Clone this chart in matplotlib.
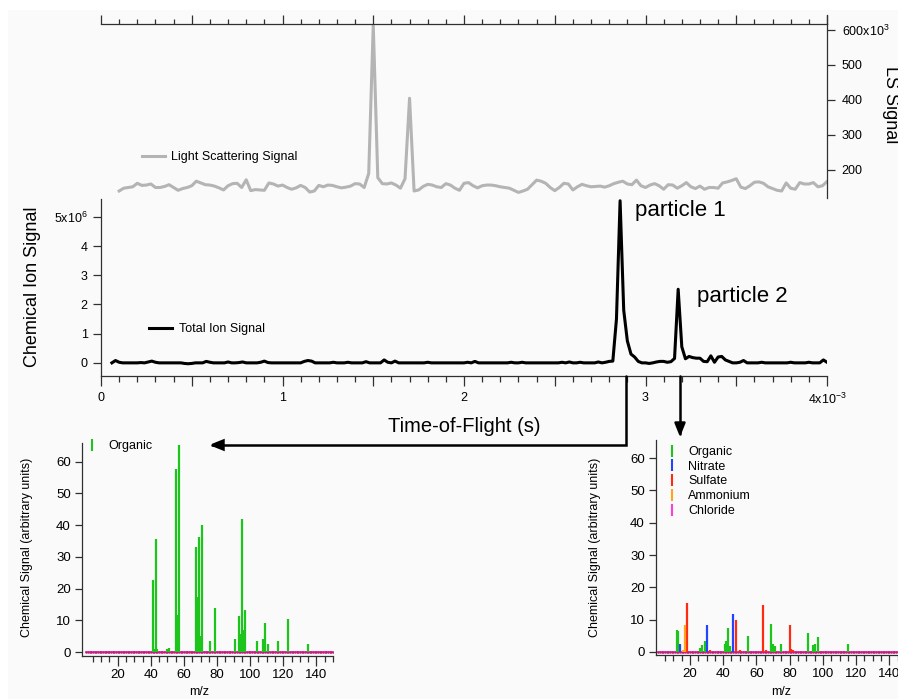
import numpy as np
import matplotlib
matplotlib.use('Agg')
import matplotlib.pyplot as plt
from matplotlib.lines import Line2D
from matplotlib.patches import Rectangle, FancyArrowPatch
from matplotlib.path import Path
from matplotlib.ticker import MultipleLocator, FixedLocator

plt.rcParams['font.family'] = ['Liberation Sans', 'DejaVu Sans']
plt.rcParams['mathtext.default'] = 'regular'

W, H = 898, 699

# light scattering signal (x10^3), one sample every 0.025 ms starting at 0.1 ms
ls_t0, ls_dt = 0.1, 0.025
ls_signal = [140, 148, 150, 152, 162, 156, 157, 160, 150, 150, 153, 158, 150, 142, 147, 150, 155, 168, 163, 158,
             157, 154, 149, 143, 155, 161, 162, 150, 172, 141, 144, 143, 142, 163, 160, 154, 157, 150, 145, 149,
             156, 150, 137, 140, 156, 152, 157, 156, 152, 149, 151, 154, 161, 160, 150, 190, 614, 178, 161, 160,
             163, 157, 148, 175, 405, 140, 143, 153, 159, 157, 152, 150, 161, 157, 148, 142, 162, 164, 155, 149,
             155, 157, 157, 155, 152, 150, 148, 142, 136, 140, 145, 158, 171, 168, 162, 150, 141, 150, 162, 160,
             143, 152, 159, 155, 152, 153, 154, 151, 155, 161, 165, 168, 160, 158, 171, 155, 150, 157, 161, 155,
             145, 158, 157, 148, 155, 164, 152, 147, 154, 145, 150, 150, 148, 163, 166, 170, 175, 151, 147, 155,
             165, 166, 162, 152, 147, 142, 140, 163, 148, 145, 164, 160, 160, 164, 152, 155, 167]

# total ion signal (x10^6), one sample every 0.02 ms starting at 0.06 ms
tis_t0, tis_dt = 0.06, 0.02
tis_signal = [0.00, 0.08, 0.02, 0.00, 0.00, 0.00, 0.00, 0.00, 0.01, 0.00,
              0.03, 0.06, 0.02, 0.00, 0.00, 0.00, 0.00, 0.00, 0.00, 0.00,
              -0.02, -0.03, -0.02, 0.00, 0.00, 0.00, 0.05, 0.02, 0.00, 0.00,
              0.00, 0.00, 0.03, 0.00, 0.00, 0.01, 0.03, 0.00, 0.00, 0.00,
              0.00, 0.02, 0.06, 0.01, 0.00, 0.00, 0.00, 0.00, 0.00, 0.00,
              0.00, 0.00, 0.00, 0.05, 0.08, 0.06, 0.00, 0.00, 0.00, 0.00,
              0.00, 0.02, 0.00, 0.00, 0.00, 0.02, 0.00, 0.00, 0.00, 0.00,
              0.04, 0.00, 0.00, 0.00, 0.00, 0.10, 0.02, 0.00, 0.06, 0.00,
              0.00, 0.00, 0.00, 0.00, 0.00, 0.00, 0.00, 0.02, 0.00, 0.00,
              0.00, 0.00, 0.00, 0.00, 0.00, 0.00, 0.00, 0.00, 0.02, 0.00,
              0.05, 0.00, 0.00, 0.00, 0.00, 0.00, 0.00, 0.00, 0.00, 0.00,
              0.02, 0.00, 0.00, 0.02, 0.00, 0.00, 0.00, 0.00, 0.00, 0.00,
              0.00, 0.00, 0.00, 0.00, 0.02, 0.00, 0.03, 0.00, 0.00, 0.02,
              0.00, 0.00, 0.00, 0.00, 0.03, 0.00, 0.02, 0.05, 0.06, 1.50,
              5.55, 1.80, 0.75, 0.30, 0.20, 0.05, 0.00, 0.00, -0.02, 0.00,
              0.03, 0.05, 0.05, 0.02, 0.04, 0.15, 2.52, 0.55, 0.14, 0.22,
              0.18, 0.16, 0.16, 0.05, 0.04, 0.24, 0.02, 0.20, 0.22, 0.10,
              0.05, 0.00, 0.00, 0.02, 0.08, 0.00, 0.00, 0.00, 0.00, 0.02,
              0.00, 0.00, 0.00, 0.00, 0.00, 0.00, 0.00, 0.02, 0.00, 0.00,
              0.00, 0.00, 0.02, 0.00, 0.00, 0.00, 0.10, 0.02]

# particle 1 mass spectrum (organic only)
p1_org_mz = [41, 42, 43, 44, 50, 51, 55, 56, 57, 67, 68, 69, 70, 71, 76, 79,
             91, 93, 94, 95, 96, 97, 104, 108, 109, 111, 117, 123, 135]
p1_org = [22.8, 1.0, 35.7, 1.0, 1.0, 1.4, 57.7, 11.8, 65.3, 33.0, 17.5, 36.3, 5.1, 39.9, 3.4, 13.9,
          4.1, 11.5, 5.8, 41.8, 7.0, 13.3, 3.6, 4.1, 9.3, 2.5, 3.4, 10.5, 2.6]

# particle 2 mass spectrum
p2_org_mz = [12, 13, 26, 27, 29, 41, 42, 43, 44, 55, 69, 70, 71, 75, 91, 94, 95, 97, 115]
p2_org = [6.9, 6.5, 1.2, 2.2, 3.3, 2.5, 3.4, 7.4, 1.9, 4.8, 8.8, 2.4, 1.9, 2.4, 5.9, 2.2, 2.4, 4.5, 2.4]
p2_no3_mz = [14, 30, 46]
p2_no3 = [2.5, 8.2, 11.7]
p2_so4_mz = [18, 32, 48, 50, 64, 66, 80, 81, 82]
p2_so4 = [15.0, 0.6, 9.8, 0.5, 14.6, 0.5, 8.3, 0.9, 0.6]
p2_nh4_mz = [16, 17]
p2_nh4 = [0.6, 8.2]
chl_mz = np.arange(1, 151)
chl = np.zeros(len(chl_mz))

species = ['Organic', 'Nitrate', 'Sulfate', 'Ammonium', 'Chloride']
colors = {'Organic': '#1cc41c', 'Nitrate': '#2244ff', 'Sulfate': '#ff2a12',
          'Ammonium': '#ffa41c', 'Chloride': '#ff3fd0'}

AX = '#303030'


def box(x0, y0, x1, y1):
    return [x0 / W, 1 - y1 / H, (x1 - x0) / W, (y1 - y0) / H]


fig = plt.figure(figsize=(W / 100, H / 100), dpi=100)
fig.patches.append(Rectangle((8 / W, 0), 1, 1 - 10 / H, transform=fig.transFigure,
                             facecolor='#fafafa', edgecolor='none', zorder=-5))

# ---- light scattering panel
ax_ls = fig.add_axes(box(101, 24, 827, 198))
ax_ls.set_facecolor('none')
ls_t = (ls_t0 + ls_dt * np.arange(len(ls_signal))) * 1e-3
ax_ls.plot(ls_t, np.array(ls_signal) * 1e3, color='#b4b4b4', lw=2.2, label='Light Scattering Signal')
ax_ls.set_xlim(0, 4e-3)
ax_ls.set_ylim(120e3, 617e3)
for s in ['left', 'bottom']:
    ax_ls.spines[s].set_visible(False)
for s in ['top', 'right']:
    ax_ls.spines[s].set_color(AX)
    ax_ls.spines[s].set_linewidth(0.9)
ax_ls.xaxis.set_ticks_position('top')
ax_ls.xaxis.set_major_locator(MultipleLocator(0.5e-3))
ax_ls.xaxis.set_minor_locator(MultipleLocator(0.1e-3))
ax_ls.tick_params(axis='x', which='major', direction='out', length=6.5, width=0.9, color=AX,
                  labeltop=False, labelbottom=False)
ax_ls.tick_params(axis='x', which='minor', direction='out', length=3.4, width=0.9, color=AX)
ax_ls.yaxis.tick_right()
ax_ls.set_yticks([200e3, 300e3, 400e3, 500e3, 600e3])
ax_ls.set_yticklabels(['200', '300', '400', '500', '600x10$^{3}$'])
ax_ls.tick_params(axis='y', direction='out', length=5.5, width=0.9, color=AX, labelsize=9, pad=5)
ax_ls.add_line(Line2D([1, 1], [1, 1.052], transform=ax_ls.transAxes, color=AX, lw=0.9, clip_on=False))
ax_ls.legend(loc='center left', bbox_to_anchor=(142 / W, 1 - 157 / H), bbox_transform=fig.transFigure,
             frameon=False, fontsize=9, handlelength=1.84, handletextpad=0.48, borderpad=0, borderaxespad=0)
fig.text(890 / W, 1 - 105 / H, 'LS Signal', rotation=-90, ha='center', va='center', fontsize=13)

# ---- total ion signal panel
ax_tis = fig.add_axes(box(101, 199.3, 827, 376))
ax_tis.set_facecolor('none')
tis_t = (tis_t0 + tis_dt * np.arange(len(tis_signal))) * 1e-3
ax_tis.plot(tis_t, np.array(tis_signal) * 1e6, color='black', lw=2.2, label='Total Ion Signal')
ax_tis.set_xlim(0, 4e-3)
ax_tis.set_ylim(-0.45e6, 5.6e6)
for s in ['top', 'right']:
    ax_tis.spines[s].set_visible(False)
for s in ['left', 'bottom']:
    ax_tis.spines[s].set_color(AX)
    ax_tis.spines[s].set_linewidth(0.9)
ax_tis.set_xticks(np.arange(0, 4.01e-3, 0.5e-3))
ax_tis.set_xticklabels(['0', '', '1', '', '2', '', '3', '', '4x10$^{-3}$'])
ax_tis.xaxis.set_minor_locator(MultipleLocator(0.1e-3))
ax_tis.tick_params(axis='x', which='major', direction='out', length=7.5, width=0.9, color=AX,
                   labelsize=9, pad=4)
ax_tis.tick_params(axis='x', which='minor', direction='out', length=4, width=0.9, color=AX)
ax_tis.set_yticks([0, 1e6, 2e6, 3e6, 4e6, 5e6])
ax_tis.set_yticklabels(['0', '1', '2', '3', '4', '5x10$^{6}$'])
ax_tis.tick_params(axis='y', direction='out', length=5.5, width=0.9, color=AX, labelsize=9, pad=4)
ax_tis.legend(loc='center left', bbox_to_anchor=(149 / W, 1 - 329 / H), bbox_transform=fig.transFigure,
              frameon=False, fontsize=9, handlelength=1.84, handletextpad=0.56, borderpad=0, borderaxespad=0)
ax_tis.text(2.942e-3, 5.2e6, 'particle 1', fontsize=16, ha='left', va='center')
ax_tis.text(3.284e-3, 2.27e6, 'particle 2', fontsize=16, ha='left', va='center')
fig.text(33 / W, 1 - 287 / H, 'Chemical Ion Signal', rotation=90, ha='center', va='center', fontsize=13)
fig.text(464.5 / W, 1 - 427 / H, 'Time-of-Flight (s)', ha='center', va='center', fontsize=14.5)


# ---- arrows from the particles to their spectra
def fpath(pts):
    return Path([(x / W, 1 - y / H) for x, y in pts])


fig.patches.append(FancyArrowPatch(path=fpath([(625.7, 376), (625.7, 445), (209, 445)]),
                                   arrowstyle='-|>,head_length=0.8,head_width=0.32', mutation_scale=10,
                                   lw=1.8, color='black', transform=fig.transFigure,
                                   joinstyle='miter', shrinkA=0, shrinkB=0))
fig.patches.append(FancyArrowPatch(path=fpath([(680, 376), (680, 437)]),
                                   arrowstyle='-|>,head_length=0.8,head_width=0.32', mutation_scale=10,
                                   lw=1.8, color='black', transform=fig.transFigure,
                                   shrinkA=0, shrinkB=0))


# ---- mass spectra
def spectrum_axes(rect, xlim, ylim, ylabel_x):
    ax = fig.add_axes(rect)
    ax.set_facecolor('none')
    ax.set_xlim(*xlim)
    ax.set_ylim(*ylim)
    for s in ['top', 'right']:
        ax.spines[s].set_visible(False)
    for s in ['left', 'bottom']:
        ax.spines[s].set_color(AX)
        ax.spines[s].set_linewidth(0.9)
    ax.set_xticks(range(20, 141, 20))
    ax.xaxis.set_minor_locator(FixedLocator(range(5, 151, 5)))
    ax.tick_params(axis='x', which='major', direction='out', length=7, width=0.9, color=AX,
                   labelsize=9.5, pad=2.5)
    ax.tick_params(axis='x', which='minor', direction='out', length=4.6, width=0.9, color=AX)
    ax.set_yticks(range(0, 61, 10))
    ax.tick_params(axis='y', direction='out', length=5, width=0.9, color=AX, labelsize=9.5, pad=3)
    ax.plot(chl_mz, chl, color=colors['Chloride'], lw=1.3, zorder=1)
    ax.plot(chl_mz, chl, ls='none', marker='.', ms=1.6, color='#c0207e', zorder=1)
    fig.text(ylabel_x / W, 1 - 547.5 / H, 'Chemical Signal (arbitrary units)', rotation=90,
             ha='center', va='center', fontsize=9)
    return ax


def sticks(ax, mz, val, c):
    ax.vlines(mz, 0, val, colors=c, lw=1.6, capstyle='butt', zorder=2)


def legend_handle(c):
    return Line2D([], [], ls='none', marker='|', ms=8, mew=1.5, color=c)


ax_s1 = spectrum_axes(box(82, 443, 333, 656), (-1.6, 150), (-1.26, 65.9), 27)
sticks(ax_s1, p1_org_mz, p1_org, colors['Organic'])
ax_s1.legend([legend_handle(colors['Organic'])], ['Organic'], loc='upper left',
             bbox_to_anchor=(87 / W, 1 - 440 / H), bbox_transform=fig.transFigure, frameon=False,
             fontsize=9, handlelength=0.8, handletextpad=0.88, borderpad=0, borderaxespad=0)
fig.text(199 / W, 1 - 692 / H, 'm/z', ha='center', va='center', fontsize=9)

ax_s2 = spectrum_axes(box(656, 440, 906, 655), (-0.4, 150), (-0.95, 65.6), 595)
p2_series = {'Organic': (p2_org_mz, p2_org), 'Nitrate': (p2_no3_mz, p2_no3),
             'Sulfate': (p2_so4_mz, p2_so4), 'Ammonium': (p2_nh4_mz, p2_nh4)}
for name, (mz, val) in p2_series.items():
    sticks(ax_s2, mz, val, colors[name])
ax_s2.legend([legend_handle(colors[s]) for s in species], species, loc='upper left',
             bbox_to_anchor=(667 / W, 1 - 446 / H), bbox_transform=fig.transFigure, frameon=False,
             fontsize=9, handlelength=0.8, handletextpad=0.88, borderpad=0, borderaxespad=0,
             labelspacing=0.22)
fig.text(781 / W, 1 - 692 / H, 'm/z', ha='center', va='center', fontsize=9)

fig.savefig('out.png', dpi=100)
